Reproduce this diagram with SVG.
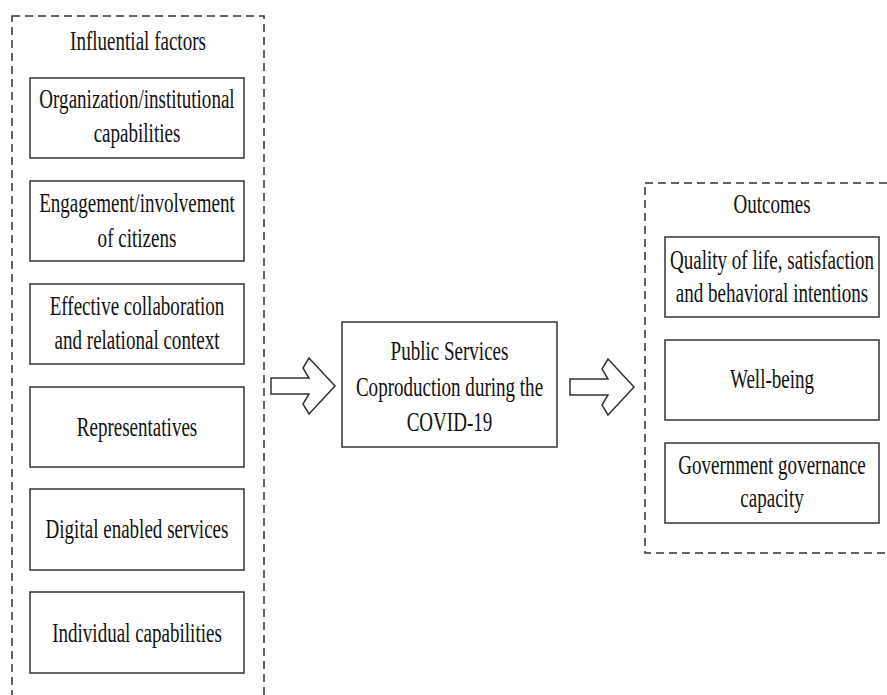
<svg xmlns="http://www.w3.org/2000/svg" width="887" height="695" viewBox="0 0 887 695">
<style>
.bg{fill:#fff}
.dash{fill:none;stroke:#333;stroke-width:1.5;stroke-dasharray:8 5}
.box{fill:#fff;stroke:#333;stroke-width:1.5}
.arrow{fill:#fff;stroke:#333;stroke-width:1.5;stroke-linejoin:miter}
text{font-family:"Liberation Serif","Times New Roman",serif;font-size:28px;fill:#111;text-anchor:middle}
</style>
<rect class="bg" x="0" y="0" width="887" height="695"/>
<g id="influential-factors">
<rect class="dash" x="12" y="16" width="252" height="700"/>
<text transform="translate(138,50) scale(0.68,1)">Influential factors</text>
</g>
<g id="f1">
<rect class="box" x="30" y="78" width="214" height="80"/>
<text transform="translate(137,108) scale(0.68,1)">Organization/institutional</text>
<text transform="translate(137,142) scale(0.68,1)">capabilities</text>
</g>
<g id="f2">
<rect class="box" x="30" y="181" width="214" height="80"/>
<text transform="translate(137,212) scale(0.68,1)">Engagement/involvement</text>
<text transform="translate(137,247) scale(0.68,1)">of citizens</text>
</g>
<g id="f3">
<rect class="box" x="30" y="284" width="214" height="80"/>
<text transform="translate(137,315) scale(0.68,1)">Effective collaboration</text>
<text transform="translate(137,349) scale(0.68,1)">and relational context</text>
</g>
<g id="f4">
<rect class="box" x="30" y="387" width="214" height="80"/>
<text transform="translate(137,436) scale(0.68,1)">Representatives</text>
</g>
<g id="f5">
<rect class="box" x="30" y="489" width="214" height="81"/>
<text transform="translate(137,538) scale(0.68,1)">Digital enabled services</text>
</g>
<g id="f6">
<rect class="box" x="30" y="592" width="214" height="81"/>
<text transform="translate(137,642) scale(0.68,1)">Individual capabilities</text>
</g>
<g id="coproduction">
<rect class="box" x="342" y="322" width="215" height="125"/>
<text transform="translate(449.5,360) scale(0.68,1)">Public Services</text>
<text transform="translate(449.5,396) scale(0.68,1)">Coproduction during the</text>
<text transform="translate(449.5,431) scale(0.68,1)">COVID-19</text>
</g>
<g id="outcomes">
<rect class="dash" x="645" y="183" width="260" height="370"/>
<text transform="translate(772,213) scale(0.68,1)">Outcomes</text>
</g>
<g id="o1">
<rect class="box" x="665" y="237" width="214" height="80"/>
<text transform="translate(772,269) scale(0.68,1)">Quality of life, satisfaction</text>
<text transform="translate(772,302) scale(0.68,1)">and behavioral intentions</text>
</g>
<g id="o2">
<rect class="box" x="665" y="340" width="214" height="80"/>
<text transform="translate(772,388) scale(0.68,1)">Well-being</text>
</g>
<g id="o3">
<rect class="box" x="665" y="443" width="214" height="80"/>
<text transform="translate(772,474) scale(0.68,1)">Government governance</text>
<text transform="translate(772,507) scale(0.68,1)">capacity</text>
</g>
<g id="connectors">
<polygon class="arrow" points="271,378 309,378 303,368 309,358 335,386 309,414 303,404 309,394 271,394"/>
<polygon class="arrow" points="570,379 608,379 602,369 608,359 634,387 608,415 602,405 608,395 570,395"/>
</g>
</svg>
